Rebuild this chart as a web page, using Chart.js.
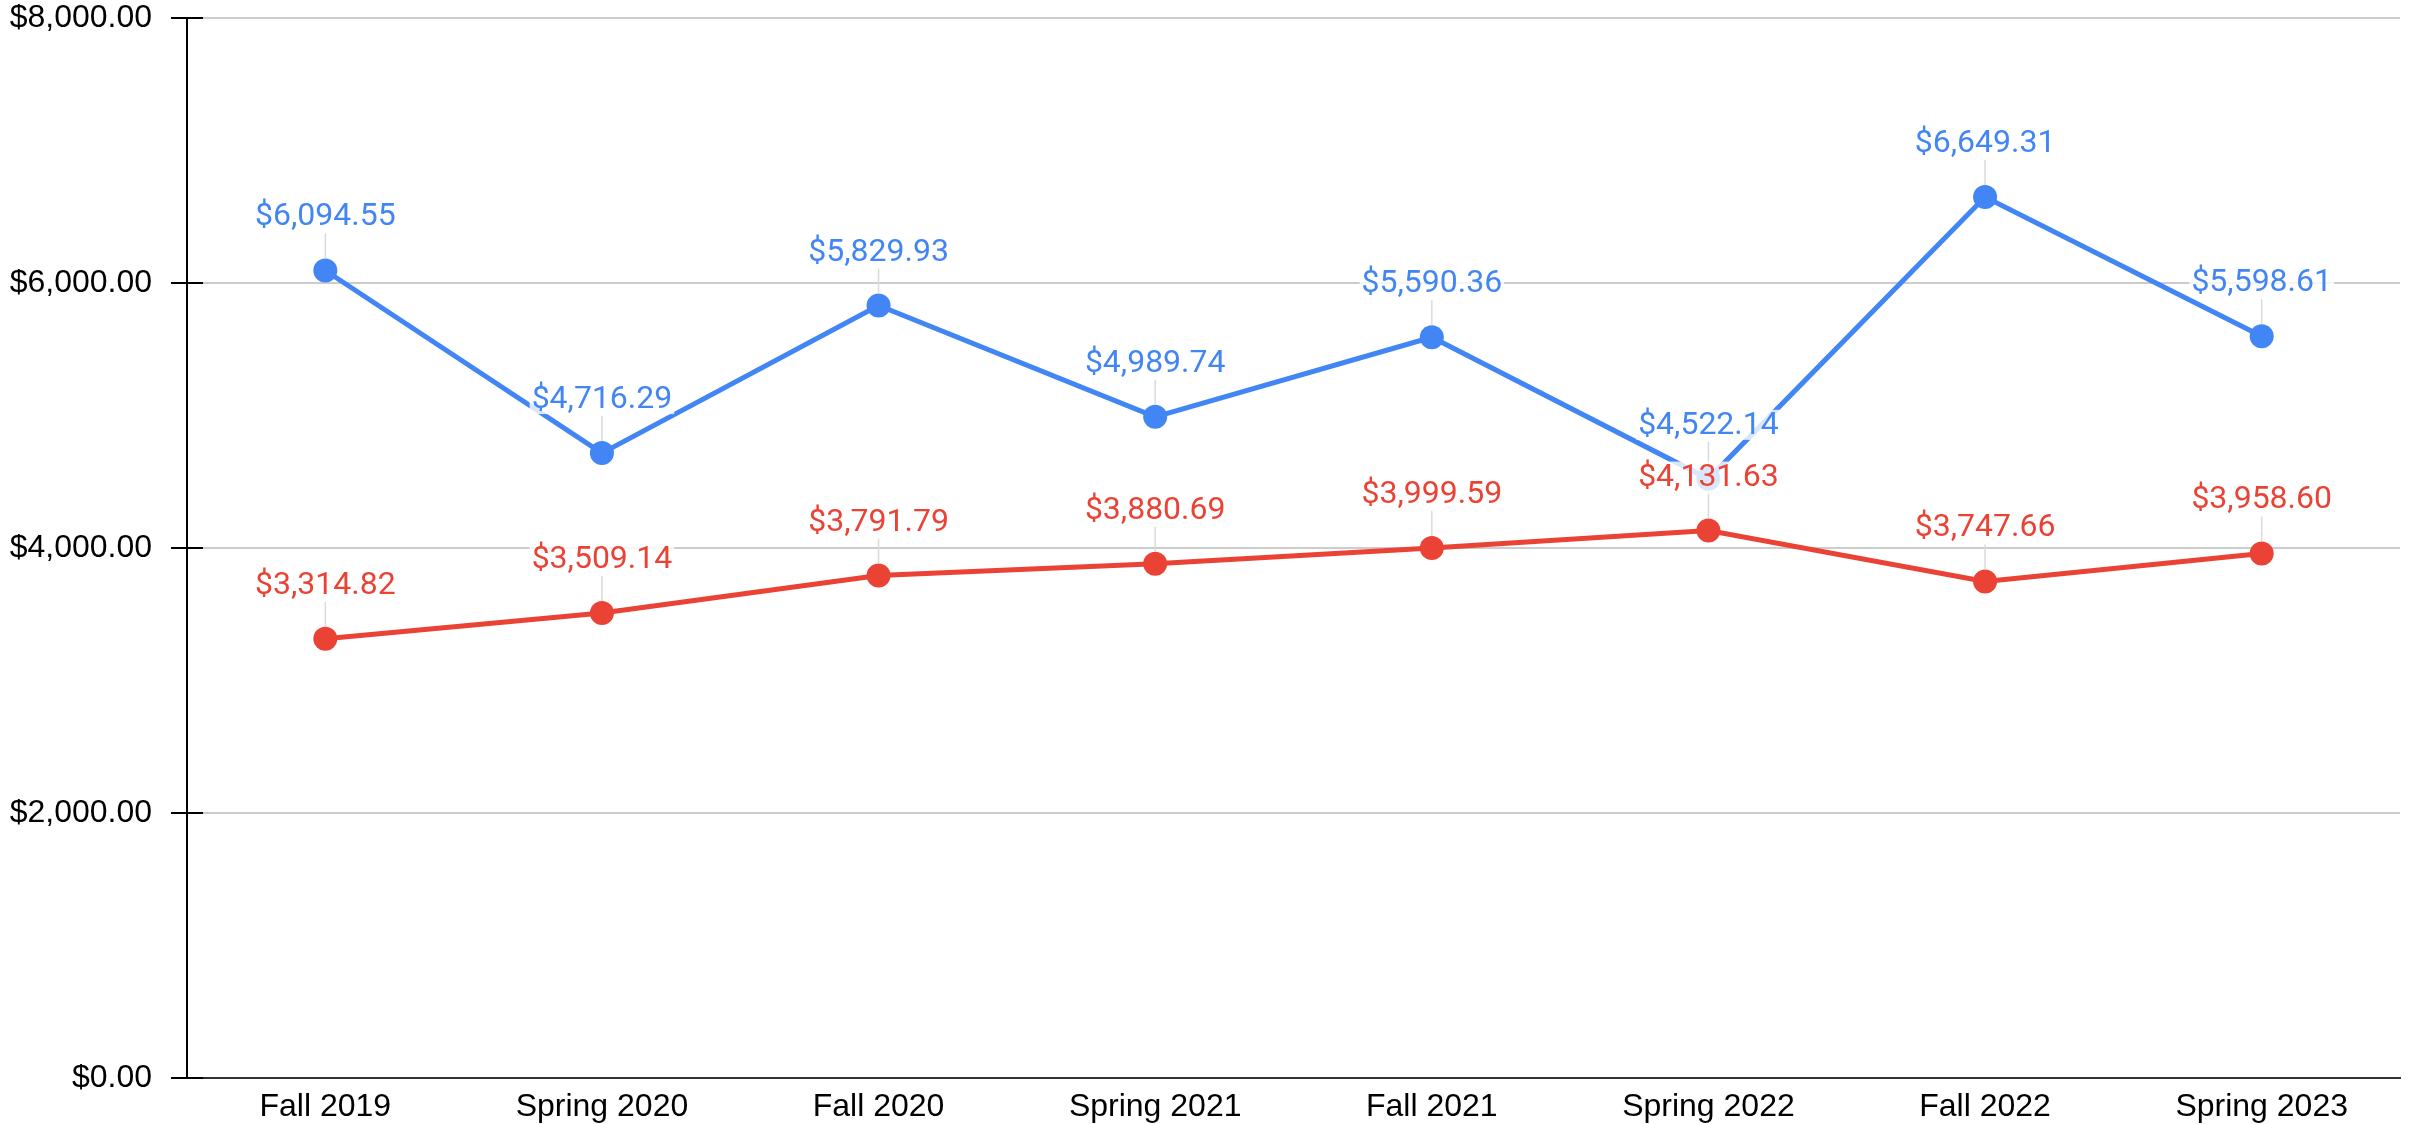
<!DOCTYPE html>
<html><head><meta charset="utf-8">
<script src="https://cdn.jsdelivr.net/npm/chart.js@4.4.1/dist/chart.umd.min.js"></script>
<style>html,body{margin:0;padding:0;background:#fff;overflow:hidden}#wrap{width:2412px;height:1124px}</style>
</head><body><div id="wrap"><canvas id="c" width="2412" height="1124"></canvas></div>
<script>
const categories = ['Fall 2019','Spring 2020','Fall 2020','Spring 2021','Fall 2021','Spring 2022','Fall 2022','Spring 2023'];
const seriesBlue = [6094.55,4716.29,5829.93,4989.74,5590.36,4522.14,6649.31,5598.61];
const seriesRed = [3314.82,3509.14,3791.79,3880.69,3999.59,4131.63,3747.66,3958.60];
const yTicks = [0,2000,4000,6000,8000];

const BLUE = '#4285F4', RED = '#EA4335';
function fmt(v){ return '$' + v.toLocaleString('en-US',{minimumFractionDigits:2,maximumFractionDigits:2}); }

const axisPlugin = {
  id:'axisTicks',
  beforeDatasetsDraw(chart){
    const ctx = chart.ctx, y = chart.scales.y, x0 = chart.chartArea.left;
    ctx.save();
    ctx.strokeStyle = '#000'; ctx.lineWidth = 2;
    y.ticks.forEach(t=>{
      const py = Math.round(y.getPixelForValue(t.value));
      ctx.beginPath(); ctx.moveTo(x0-16, py); ctx.lineTo(x0+16, py); ctx.stroke();
    });
    ctx.restore();
  }
};

const labelPlugin = {
  id:'pointLabels',
  afterDatasetsDraw(chart){
    const ctx = chart.ctx;
    const metas = chart.data.datasets.map((d,i)=>chart.getDatasetMeta(i));
    ctx.save();
    ctx.strokeStyle = '#dadada'; ctx.lineWidth = 1.5;
    metas.forEach(m=>m.data.forEach(pt=>{
      ctx.beginPath(); ctx.moveTo(pt.x, pt.y-37); ctx.lineTo(pt.x, pt.y-12); ctx.stroke();
    }));
    ctx.font = '32px Roboto';
    ctx.textAlign = 'center'; ctx.textBaseline = 'middle';
    metas.forEach((m,i)=>{
      const ds = chart.data.datasets[i];
      m.data.forEach((pt,j)=>{
        const t = fmt(ds.data[j]);
        const w = ctx.measureText(t).width;
        const cy = pt.y - 54;
        ctx.fillStyle = 'rgba(255,255,255,0.8)';
        ctx.fillRect(pt.x - w/2 - 2, cy - 15, w + 4, 30);
        ctx.fillStyle = ds.borderColor;
        ctx.fillText(t, pt.x, cy + 1);
      });
    });
    ctx.restore();
  }
};

new Chart(document.getElementById('c'), {
  type:'line',
  data:{
    labels: categories,
    datasets:[
      {label:'Series A', data: seriesBlue, borderColor: BLUE, backgroundColor: BLUE, borderWidth:5, pointRadius:12, pointHoverRadius:12, pointBorderWidth:0, tension:0},
      {label:'Series B', data: seriesRed, borderColor: RED, backgroundColor: RED, borderWidth:5, pointRadius:12, pointHoverRadius:12, pointBorderWidth:0, tension:0}
    ]
  },
  options:{
    responsive:false, animation:false, devicePixelRatio:1,
    layout:{padding:{top:18,right:0,bottom:0,left:0}},
    plugins:{legend:{display:false}, tooltip:{enabled:false}},
    scales:{
      x:{
        offset:true,
        grid:{display:false, drawTicks:false},
        border:{display:true, color:'#333', width:2},
        ticks:{font:{family:'"Liberation Sans", Arial, sans-serif', size:32}, color:'#000', padding:10, maxRotation:0, autoSkip:false},
        afterFit(s){ s.height = 46; }
      },
      y:{
        min:0, max:8000,
        afterBuildTicks(s){ s.ticks = yTicks.map(v=>({value:v})); },
        grid:{color:'#cccccc', lineWidth:2, drawTicks:true, tickLength:35, tickColor:'rgba(0,0,0,0)'},
        border:{display:true, color:'#000', width:2},
        ticks:{font:{family:'"Liberation Sans", Arial, sans-serif', size:32, lineHeight:1}, color:'#000', padding:0, callback:(v)=>fmt(v)},
        afterFit(s){ s.width = 187; }
      }
    }
  },
  plugins:[axisPlugin, labelPlugin]
});
</script></body></html>
